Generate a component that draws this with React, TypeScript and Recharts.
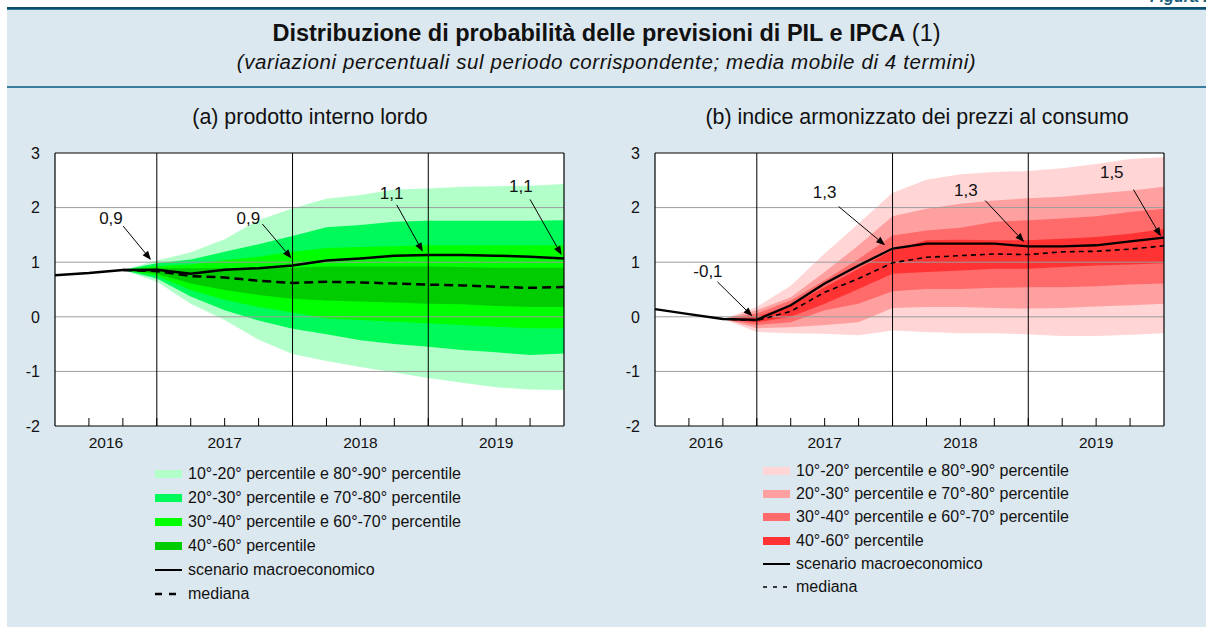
import React from "react";
import { ComposedChart, Area, Line, XAxis, YAxis, ReferenceLine, ReferenceDot, CartesianGrid } from "recharts";

const FONT = '"Liberation Sans", Arial, Helvetica, sans-serif';

// quarters 2016 T1 .. 2019 T4
const quarters = [
  "2016T1", "2016T2", "2016T3", "2016T4",
  "2017T1", "2017T2", "2017T3", "2017T4",
  "2018T1", "2018T2", "2018T3", "2018T4",
  "2019T1", "2019T2", "2019T3", "2019T4",
];
const yearLabels = ["2016", "2017", "2018", "2019"];
const yearCenters = [1.5, 5, 9, 13];
const yearBreaks = [3, 7, 11];
const yTicks = [-2, -1, 0, 1, 2, 3];
const gridValues = [-1, 0, 1, 2];

const bandLabels = [
  "10°-20° percentile e 80°-90° percentile",
  "20°-30° percentile e 70°-80° percentile",
  "30°-40° percentile e 60°-70° percentile",
  "40°-60° percentile",
];
const lineLabels = ["scenario macroeconomico", "mediana"];

// (a) PIL
const pilScenario = [0.76, 0.8, 0.855, 0.86, 0.79, 0.86, 0.89, 0.94, 1.03, 1.07, 1.12, 1.13, 1.13, 1.12, 1.1, 1.07];
const pilMedian = [null, null, 0.855, 0.84, 0.745, 0.72, 0.66, 0.62, 0.64, 0.63, 0.61, 0.59, 0.575, 0.55, 0.53, 0.545];
const pilP90 = [null, null, 0.855, 1.03, 1.18, 1.42, 1.77, 1.99, 2.16, 2.23, 2.33, 2.35, 2.38, 2.39, 2.4, 2.43];
const pilP80 = [null, null, 0.855, 0.98, 1.05, 1.19, 1.33, 1.48, 1.64, 1.68, 1.74, 1.76, 1.76, 1.76, 1.76, 1.77];
const pilP70 = [null, null, 0.855, 0.93, 0.96, 1.04, 1.1, 1.19, 1.26, 1.28, 1.29, 1.31, 1.31, 1.31, 1.31, 1.31];
const pilP60 = [null, null, 0.855, 0.89, 0.89, 0.89, 0.88, 0.9, 0.92, 0.92, 0.92, 0.92, 0.91, 0.9, 0.9, 0.9];
const pilP40 = [null, null, 0.855, 0.79, 0.61, 0.49, 0.4, 0.33, 0.3, 0.28, 0.26, 0.24, 0.23, 0.2, 0.18, 0.18];
const pilP30 = [null, null, 0.855, 0.75, 0.49, 0.31, 0.18, 0.08, -0.03, -0.06, -0.09, -0.12, -0.15, -0.18, -0.21, -0.21];
const pilP20 = [null, null, 0.855, 0.7, 0.37, 0.12, -0.07, -0.22, -0.32, -0.43, -0.5, -0.55, -0.61, -0.65, -0.7, -0.67];
const pilP10 = [null, null, 0.855, 0.64, 0.24, -0.06, -0.42, -0.68, -0.81, -0.92, -1.02, -1.12, -1.21, -1.29, -1.33, -1.34];

// (b) IPCA
const ipcaScenario = [0.14, 0.05, -0.04, -0.055, 0.21, 0.61, 0.94, 1.25, 1.34, 1.34, 1.34, 1.29, 1.29, 1.31, 1.38, 1.45];
const ipcaMedian = [null, null, -0.04, -0.07, 0.1, 0.45, 0.7, 0.99, 1.09, 1.12, 1.15, 1.14, 1.19, 1.2, 1.24, 1.3];
const ipcaP90 = [null, null, -0.04, 0.18, 0.57, 1.16, 1.71, 2.27, 2.51, 2.61, 2.65, 2.67, 2.72, 2.8, 2.89, 2.92];
const ipcaP80 = [null, null, -0.04, 0.12, 0.36, 0.82, 1.31, 1.84, 1.98, 2.07, 2.13, 2.17, 2.2, 2.26, 2.31, 2.38];
const ipcaP70 = [null, null, -0.04, 0.06, 0.3, 0.67, 1.06, 1.49, 1.58, 1.63, 1.74, 1.77, 1.8, 1.84, 1.92, 1.98];
const ipcaP60 = [null, null, -0.04, 0.0, 0.21, 0.54, 0.88, 1.22, 1.4, 1.41, 1.4, 1.4, 1.43, 1.46, 1.52, 1.61];
const ipcaP40 = [null, null, -0.04, -0.1, 0.0, 0.24, 0.51, 0.79, 0.82, 0.85, 0.88, 0.88, 0.91, 0.94, 0.96, 0.98];
const ipcaP30 = [null, null, -0.04, -0.15, -0.1, 0.12, 0.24, 0.47, 0.51, 0.51, 0.53, 0.54, 0.54, 0.56, 0.59, 0.61];
const ipcaP20 = [null, null, -0.04, -0.21, -0.19, -0.15, -0.1, 0.16, 0.18, 0.18, 0.16, 0.15, 0.16, 0.19, 0.21, 0.24];
const ipcaP10 = [null, null, -0.04, -0.28, -0.3, -0.31, -0.34, -0.25, -0.28, -0.3, -0.3, -0.32, -0.35, -0.35, -0.33, -0.3];

// annotations: label position and arrow (data coordinates)
const pilNotes = [
  { label: "0,9", tx: 1.65, ty: 1.82, x1: 2.01, y1: 1.66, x2: 2.83, y2: 1.04 },
  { label: "0,9", tx: 5.7, ty: 1.82, x1: 6.11, y1: 1.7, x2: 6.97, y2: 1.07 },
  { label: "1,1", tx: 9.92, ty: 2.27, x1: 10.07, y1: 2.05, x2: 10.84, y2: 1.19 },
  { label: "1,1", tx: 13.73, ty: 2.4, x1: 14.0, y1: 2.15, x2: 14.93, y2: 1.13 },
];
const ipcaNotes = [
  { label: "-0,1", tx: 1.56, ty: 0.85, x1: 1.84, y1: 0.64, x2: 2.87, y2: 0.01 },
  { label: "1,3", tx: 5.0, ty: 2.29, x1: 5.41, y1: 2.02, x2: 6.78, y2: 1.31 },
  { label: "1,3", tx: 9.16, ty: 2.32, x1: 9.73, y1: 2.13, x2: 10.88, y2: 1.37 },
  { label: "1,5", tx: 13.46, ty: 2.65, x1: 14.1, y1: 2.33, x2: 14.91, y2: 1.47 },
];

const greens = ["#b3ffc9", "#00fa5a", "#00ff00", "#00cc00"];
const reds = ["#ffd5d5", "#ffa0a0", "#ff6a6a", "#ff3333"];

function buildRows(scen, med, p10, p20, p30, p40, p60, p70, p80, p90) {
  return quarters.map((q, i) => ({
    i,
    q,
    scen: scen[i],
    med: med[i],
    b1: p10[i] == null ? null : [p10[i], p90[i]],
    b2: p20[i] == null ? null : [p20[i], p80[i]],
    b3: p30[i] == null ? null : [p30[i], p70[i]],
    b4: p40[i] == null ? null : [p40[i], p60[i]],
  }));
}

const pilRows = buildRows(pilScenario, pilMedian, pilP10, pilP20, pilP30, pilP40, pilP60, pilP70, pilP80, pilP90);
const ipcaRows = buildRows(ipcaScenario, ipcaMedian, ipcaP10, ipcaP20, ipcaP30, ipcaP40, ipcaP60, ipcaP70, ipcaP80, ipcaP90);

const xTicks = [0, 1, 1.5, 2, 3, 4, 5, 6, 7, 8, 9, 10, 11, 12, 13, 14, 15];

const XTick = (props: any) => {
  const { x, y, payload } = props;
  const v = payload.value;
  const idx = yearCenters.indexOf(v);
  return (
    <g>
      {Number.isInteger(v) && v > 0 && v < 15 && (
        <line x1={x} x2={x} y1={y} y2={y - 8} stroke="#000" strokeWidth={1} />
      )}
      {idx >= 0 && (
        <text x={x} y={y + 22} textAnchor="middle" fontSize={15.5} fontFamily={FONT} fill="#111">
          {yearLabels[idx]}
        </text>
      )}
    </g>
  );
};

const LeftTick = (props: any) => (
  <text x={props.x - 15} y={props.y} dy="0.36em" textAnchor="end" fontSize={16} fontFamily={FONT} fill="#111">
    {props.payload.value}
  </text>
);
const RightTick = (props: any) => (
  <text x={props.x + 27} y={props.y} dy="0.36em" textAnchor="end" fontSize={16} fontFamily={FONT} fill="#111">
    {props.payload.value}
  </text>
);

const Arrow = (props: any) => {
  const { x1, y1, x2, y2 } = props;
  const ang = Math.atan2(y2 - y1, x2 - x1);
  const len = 9;
  const w = 3.5;
  const bx = x2 - len * Math.cos(ang);
  const by = y2 - len * Math.sin(ang);
  const px = -Math.sin(ang) * w;
  const py = Math.cos(ang) * w;
  return (
    <g>
      <line x1={x1} y1={y1} x2={bx} y2={by} stroke="#000" strokeWidth={1} />
      <polygon points={`${x2},${y2} ${bx + px},${by + py} ${bx - px},${by - py}`} fill="#000" />
    </g>
  );
};

const NoteText = (label: string) => (props: any) => (
  <text x={props.cx} y={props.cy} dy="0.36em" textAnchor="middle" fontSize={17} fontFamily={FONT} fill="#111">
    {label}
  </text>
);

function FanPanel({ rows, colors, notes, medDash, medWidth, scenWidth }: any) {
  return (
    <ComposedChart
      width={606}
      height={320}
      data={rows}
      margin={{ top: 14, right: 0, bottom: 0, left: 0 }}
    >
      <CartesianGrid yAxisId="l" fill="#ffffff" horizontal={false} vertical={false} />
      <XAxis
        dataKey="i"
        type="number"
        domain={[0, 15]}
        ticks={xTicks}
        interval={0}
        height={33}
        axisLine={false}
        tickLine={false}
        tickSize={0}
        tickMargin={0}
        tick={XTick}
      />
      <YAxis
        yAxisId="l"
        type="number"
        domain={[-2, 3]}
        ticks={yTicks}
        width={55}
        axisLine={false}
        tickLine={false}
        tickSize={0}
        tickMargin={0}
        tick={LeftTick}
      />
      <YAxis
        yAxisId="r"
        orientation="right"
        type="number"
        domain={[-2, 3]}
        ticks={yTicks}
        width={42}
        axisLine={false}
        tickLine={false}
        tickSize={0}
        tickMargin={0}
        tick={RightTick}
      />
      {["b1", "b2", "b3", "b4"].map((k, j) => (
        <Area
          key={k}
          yAxisId="l"
          dataKey={k}
          type="linear"
          stroke="none"
          fill={colors[j]}
          fillOpacity={1}
          isAnimationActive={false}
          activeDot={false}
        />
      ))}
      {gridValues.map((v) => (
        <ReferenceLine key={"g" + v} yAxisId="l" y={v} stroke="#9c9c9c" strokeWidth={1} />
      ))}
      {yearBreaks.map((v) => (
        <ReferenceLine key={"y" + v} yAxisId="l" x={v} stroke="#000" strokeWidth={1} />
      ))}
      <ReferenceLine yAxisId="l" x={0} stroke="#000" strokeWidth={1.2} />
      <ReferenceLine yAxisId="l" x={15} stroke="#000" strokeWidth={1.2} />
      <ReferenceLine yAxisId="l" y={3} stroke="#000" strokeWidth={1.2} />
      <ReferenceLine yAxisId="l" y={-2} stroke="#000" strokeWidth={1.2} />
      <Line
        yAxisId="l"
        dataKey="med"
        type="linear"
        stroke="#000"
        strokeWidth={medWidth}
        strokeDasharray={medDash}
        dot={false}
        activeDot={false}
        isAnimationActive={false}
      />
      <Line
        yAxisId="l"
        dataKey="scen"
        type="linear"
        stroke="#000"
        strokeWidth={scenWidth}
        dot={false}
        activeDot={false}
        isAnimationActive={false}
      />
      {notes.map((n: any, j: number) => (
        <ReferenceLine
          key={"a" + j}
          yAxisId="l"
          segment={[{ x: n.x1, y: n.y1 }, { x: n.x2, y: n.y2 }]}
          shape={Arrow}
          ifOverflow="visible"
        />
      ))}
      {notes.map((n: any, j: number) => (
        <ReferenceDot
          key={"t" + j}
          yAxisId="l"
          x={n.tx}
          y={n.ty}
          r={0}
          shape={NoteText(n.label)}
          ifOverflow="visible"
        />
      ))}
    </ComposedChart>
  );
}

function Legend({ colors, left, top, rowH, dash, dashWidth }: any) {
  const rows = [
    ...bandLabels.map((l, j) => ({ label: l, kind: "band", color: colors[j] })),
    { label: lineLabels[0], kind: "solid" },
    { label: lineLabels[1], kind: "dash" },
  ];
  return (
    <div style={{ position: "absolute", left, top }}>
      {rows.map((r: any, j) => (
        <div key={j} style={{ display: "flex", alignItems: "center", height: rowH }}>
          <svg width={27} height={10} style={{ marginRight: 6 }}>
            {r.kind === "band" && <rect x={0} y={1} width={27} height={8} fill={r.color} />}
            {r.kind === "solid" && <line x1={0} x2={27} y1={5} y2={5} stroke="#000" strokeWidth={2} />}
            {r.kind === "dash" && (
              <line x1={0} x2={27} y1={5} y2={5} stroke="#000" strokeWidth={dashWidth} strokeDasharray={dash} />
            )}
          </svg>
          <span style={{ fontSize: 16, color: "#111", fontFamily: FONT, whiteSpace: "nowrap" }}>{r.label}</span>
        </div>
      ))}
    </div>
  );
}

export default function App() {
  return (
    <div style={{ position: "absolute", left: 0, top: 0, width: 1206, height: 627, background: "#fff", overflow: "hidden", fontFamily: FONT }}>
      <div style={{ position: "absolute", left: 1150, top: -11, fontSize: 16, lineHeight: "16px", fontWeight: "bold", fontStyle: "italic", color: "#1b5e7b", whiteSpace: "nowrap" }}>
        Figura 1
      </div>
      <div style={{ position: "absolute", left: 7, top: 7, right: 0, bottom: 0, background: "#dce8f0" }} />
      <div style={{ position: "absolute", left: 7, top: 7, right: 0, height: 2, background: "#0f4e6a" }} />
      <div style={{ position: "absolute", left: 7, top: 9, right: 0, height: 1, background: "#2a7a98" }} />
      <div style={{ position: "absolute", left: 7, top: 86, right: 0, height: 2, background: "#3a7da0" }} />

      <div style={{ position: "absolute", left: 7, right: 0, top: 19, textAlign: "center", fontSize: 23.5, lineHeight: "28px", color: "#111", whiteSpace: "nowrap" }}>
        <b>Distribuzione di probabilità delle previsioni di PIL e IPCA</b> (1)
      </div>
      <div style={{ position: "absolute", left: 7, right: 0, top: 50, textAlign: "center", fontSize: 20.5, lineHeight: "24px", letterSpacing: 0.6, fontStyle: "italic", color: "#111", whiteSpace: "nowrap" }}>
        (variazioni percentuali sul periodo corrispondente; media mobile di 4 termini)
      </div>

      <div style={{ position: "absolute", left: 110, width: 400, top: 104, textAlign: "center", fontSize: 21.4, lineHeight: "26px", color: "#111", whiteSpace: "nowrap" }}>
        (a) prodotto interno lordo
      </div>
      <div style={{ position: "absolute", left: 717, width: 400, top: 104, textAlign: "center", fontSize: 21.4, lineHeight: "26px", color: "#111", whiteSpace: "nowrap", display: "flex", justifyContent: "center" }}>
        (b) indice armonizzato dei prezzi al consumo
      </div>

      <div style={{ position: "absolute", left: 0, top: 139 }}>
        <FanPanel rows={pilRows} colors={greens} notes={pilNotes} medDash="9 5" medWidth={2.5} scenWidth={2.5} />
      </div>
      <div style={{ position: "absolute", left: 600, top: 139 }}>
        <FanPanel rows={ipcaRows} colors={reds} notes={ipcaNotes} medDash="5 4" medWidth={1.6} scenWidth={2.3} />
      </div>

      <Legend colors={greens} left={155} top={462} rowH={24} dash="7 7" dashWidth={2.5} />
      <Legend colors={reds} left={763} top={459} rowH={23.3} dash="4 6" dashWidth={1.6} />
    </div>
  );
}
